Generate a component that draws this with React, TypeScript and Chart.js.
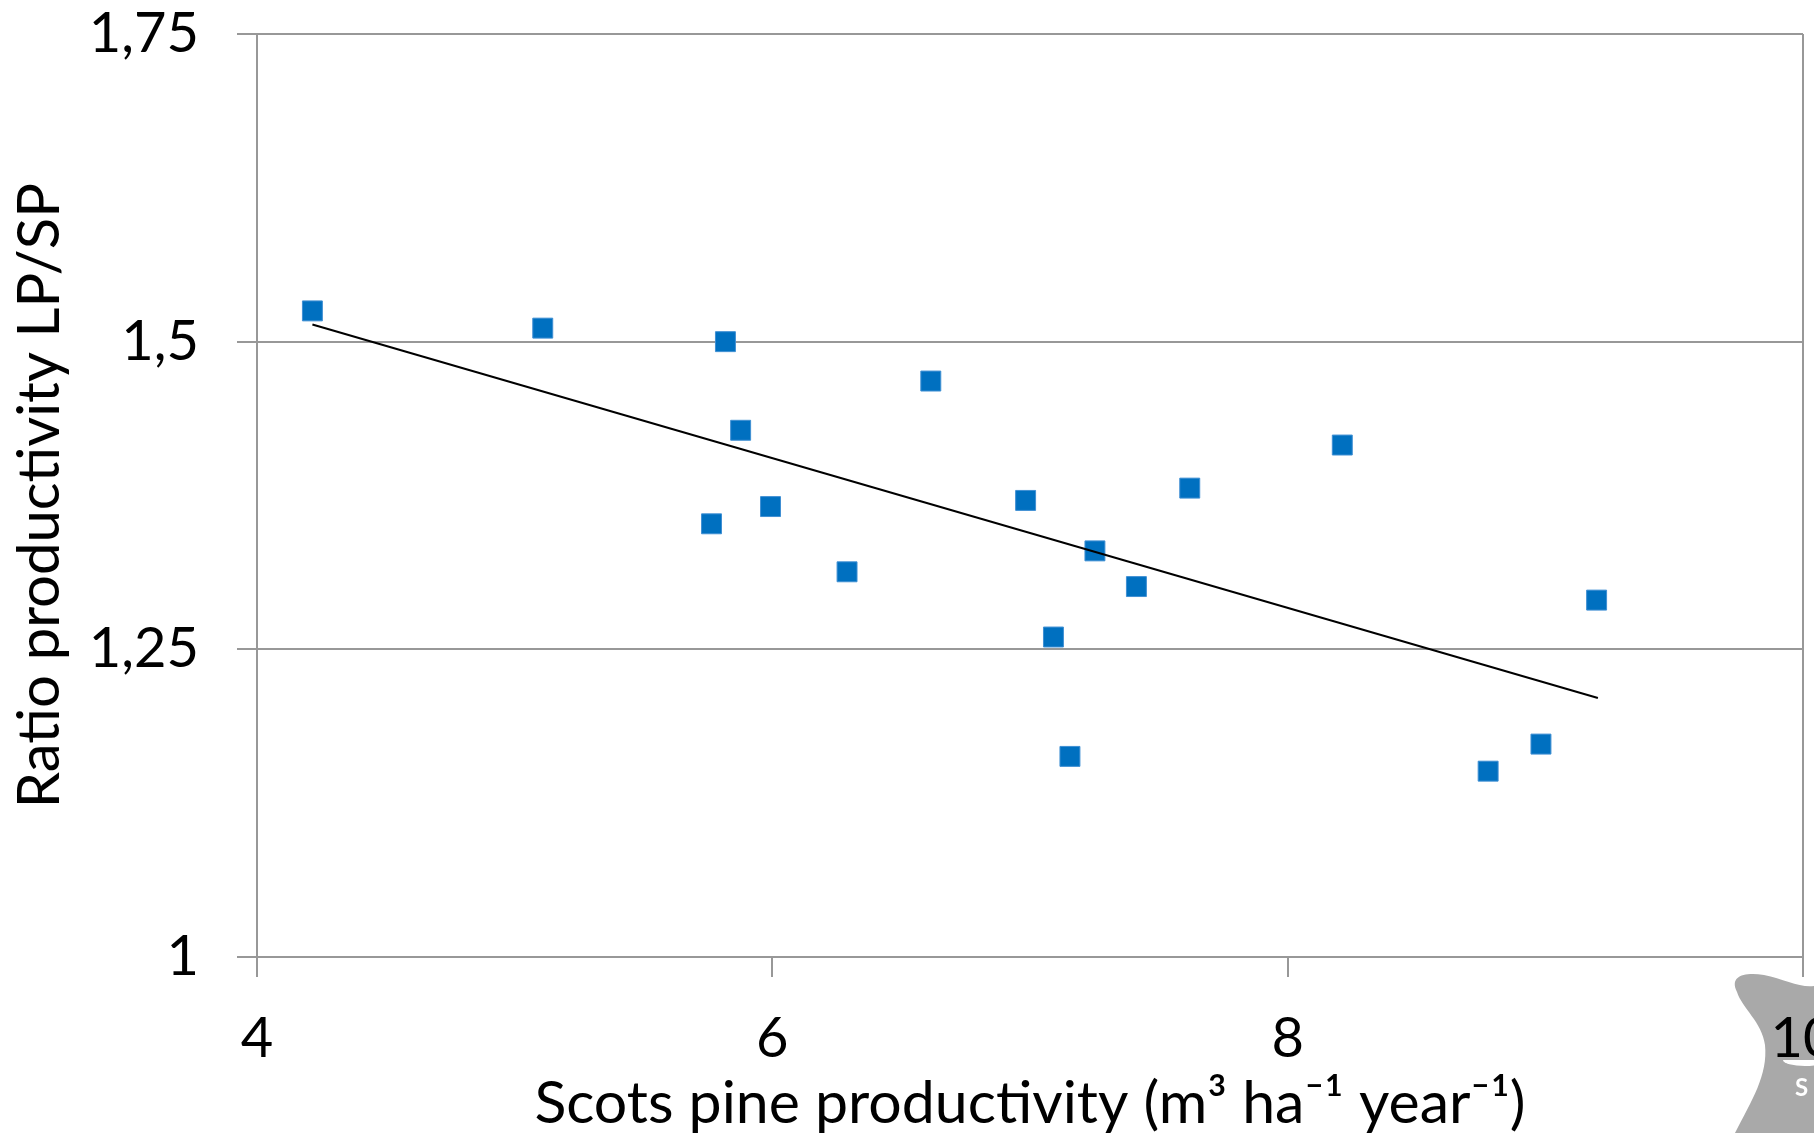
import { useEffect, useRef } from "react";
import { Chart, registerables } from "chart.js";

Chart.register(...registerables);

const FONT = "Lato";
const GRID = "#989898";
const FS = 56;

// Scots pine productivity (x) and ratio LP/SP (y)
const xValues = [4.215, 5.109, 5.818, 5.877, 5.764, 5.993, 6.29, 6.615, 6.983, 7.091, 7.155, 7.252, 7.413, 7.62, 8.212, 8.778, 8.983, 9.199];
const yValues = [1.525, 1.511, 1.5, 1.428, 1.352, 1.366, 1.313, 1.468, 1.371, 1.26, 1.163, 1.33, 1.301, 1.381, 1.416, 1.151, 1.173, 1.29];

// trend line end points
const trendX = [4.215, 9.204];
const trendY = [1.514, 1.2105];

const xTicks = [4, 6, 8, 10];
const yTicks = [1, 1.25, 1.5, 1.75];

const xTitle = "Scots pine productivity (m³ ha⁻¹ year⁻¹)";
const yTitle = "Ratio productivity LP/SP";

const watermark = {
  id: "watermark",
  beforeDraw(chart: any) {
    const ctx = chart.ctx;
    ctx.save();
    ctx.fillStyle = "#ffffff";
    ctx.fillRect(0, 0, chart.width, chart.height);
    ctx.fillStyle = "#a9a9a9";
    ctx.beginPath();
    ctx.moveTo(1737, 992);
    ctx.bezierCurveTo(1729, 976, 1744, 972, 1764, 975);
    ctx.bezierCurveTo(1784, 979, 1800, 988, 1814, 986);
    ctx.lineTo(1814, 1133);
    ctx.lineTo(1735, 1133);
    ctx.bezierCurveTo(1752, 1100, 1768, 1075, 1765, 1045);
    ctx.bezierCurveTo(1762, 1022, 1742, 1008, 1737, 992);
    ctx.closePath();
    ctx.fill();
    ctx.fillStyle = "#ffffff";
    ctx.beginPath();
    ctx.ellipse(1805, 1060, 22, 6, 0, 0, Math.PI);
    ctx.fill();
    ctx.font = "bold 24px " + FONT;
    ctx.textAlign = "left";
    ctx.textBaseline = "middle";
    ctx.fillText("S", 1795, 1088);
    ctx.restore();
  },
};

export default function App() {
  const ref = useRef<HTMLCanvasElement | null>(null);

  useEffect(() => {
    if (!ref.current) return;
    const chart = new Chart(ref.current, {
      type: "scatter",
      data: {
        datasets: [
          {
            type: "line",
            data: trendX.map((x, i) => ({ x, y: trendY[i] })),
            borderColor: "#000000",
            borderWidth: 2,
            pointRadius: 0,
            fill: false,
          } as any,
          {
            data: xValues.map((x, i) => ({ x, y: yValues[i] })),
            pointStyle: "rect",
            pointRadius: 14.1,
            pointHoverRadius: 14.1,
            backgroundColor: "#0070C0",
            borderColor: "#3f8fd3",
            borderWidth: 1,
          },
        ],
      },
      options: {
        animation: false,
        responsive: false,
        devicePixelRatio: 1,
        layout: { autoPadding: false, padding: { top: 34, left: 0, right: 11, bottom: 0 } },
        plugins: { legend: { display: false }, tooltip: { enabled: false } },
        scales: {
          x: {
            type: "linear",
            min: 4,
            max: 10,
            afterBuildTicks: (scale: any) => {
              scale.ticks = xTicks.map((v) => ({ value: v }));
            },
            ticks: {
              font: { family: FONT, size: FS },
              color: "#000000",
              padding: 28,
              maxRotation: 0,
            },
            grid: {
              color: (c: any) => (c.tick && c.tick.value === 10 ? GRID : "rgba(0,0,0,0)"),
              tickColor: GRID,
              tickLength: 20,
              lineWidth: 2,
            },
            border: { color: GRID, width: 2 },
            title: {
              display: true,
              text: xTitle,
              color: "#000000",
              font: { family: FONT, size: 59, lineHeight: 1.0 },
              padding: { top: 0, bottom: 0 },
            },
            afterFit: (scale: any) => {
              scale.height = 176;
              scale.paddingRight = 0;
              scale.paddingLeft = 0;
            },
          },
          y: {
            type: "linear",
            min: 1,
            max: 1.75,
            afterBuildTicks: (scale: any) => {
              scale.ticks = yTicks.map((v) => ({ value: v }));
            },
            ticks: {
              font: { family: FONT, size: FS },
              color: "#000000",
              padding: 38,
              callback: (v: any) => String(+Number(v).toFixed(2)).replace(".", ","),
            },
            grid: { color: GRID, tickColor: GRID, tickLength: 20, lineWidth: 2 },
            border: { color: GRID, width: 2 },
            title: {
              display: true,
              text: yTitle,
              color: "#000000",
              font: { family: FONT, size: 58, lineHeight: 1.2 },
              padding: { top: 5, bottom: 0 },
            },
            afterFit: (scale: any) => {
              scale.width = 257;
              scale.paddingTop = 0;
              scale.paddingBottom = 0;
            },
          },
        },
      } as any,
      plugins: [watermark],
    });
    return () => chart.destroy();
  }, []);

  return (
    <div style={{ position: "fixed", left: 0, top: 0, width: 1814, height: 1133, overflow: "hidden", background: "#fff" }}>
      <canvas ref={ref} width={1814} height={1133} style={{ width: 1814, height: 1133, display: "block" }} />
    </div>
  );
}
